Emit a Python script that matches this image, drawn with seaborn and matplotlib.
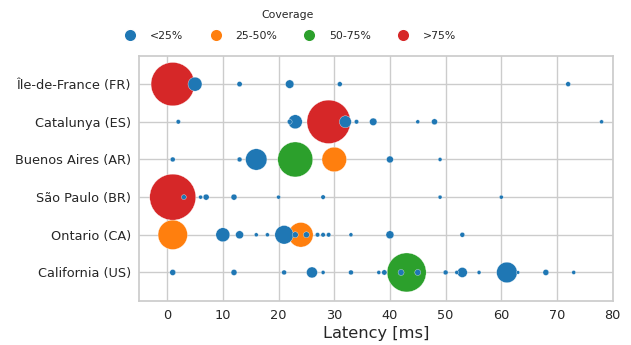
import pandas as pd
import matplotlib.pyplot as plt
import seaborn as sns
from matplotlib.lines import Line2D

# regions, top to bottom
regions = ['Île-de-France (FR)', 'Catalunya (ES)', 'Buenos Aires (AR)',
           'São Paulo (BR)', 'Ontario (CA)', 'California (US)']
coverage_order = ['<25%', '25-50%', '50-75%', '>75%']

# latency [ms], request count (marker size) and coverage per region
fr_lat = [1, 5, 13, 22, 31, 72]
fr_req = [471, 49, 7, 18, 6, 6]
fr_cov = ['>75%', '<25%', '<25%', '<25%', '<25%', '<25%']

es_lat = [2, 22, 23, 29, 32, 34, 37, 45, 48, 78]
es_req = [5, 6, 49, 471, 36, 5, 14, 4, 9, 4]
es_cov = ['<25%', '<25%', '<25%', '>75%', '<25%', '<25%', '<25%', '<25%', '<25%', '<25%']

ar_lat = [1, 13, 16, 23, 30, 40, 49]
ar_req = [6, 6, 114, 306, 151, 12, 4]
ar_cov = ['<25%', '<25%', '<25%', '50-75%', '25-50%', '<25%', '<25%']

br_lat = [1, 3, 6, 7, 12, 20, 28, 49, 60]
br_req = [529, 6, 4, 9, 9, 4, 5, 4, 4]
br_cov = ['>75%', '<25%', '<25%', '<25%', '<25%', '<25%', '<25%', '<25%', '<25%']

ca_lat = [1, 10, 13, 16, 18, 21, 23, 24, 25, 27, 28, 29, 33, 40, 53]
ca_req = [216, 49, 16, 4, 4, 86, 9, 151, 9, 5, 5, 5, 4, 16, 6]
ca_cov = ['25-50%', '<25%', '<25%', '<25%', '<25%', '<25%', '<25%', '25-50%',
          '<25%', '<25%', '<25%', '<25%', '<25%', '<25%', '<25%']

us_lat = [1, 12, 21, 26, 28, 33, 38, 39, 42, 43, 45, 50, 52, 53, 56, 61, 63, 68, 73]
us_req = [9, 9, 6, 30, 4, 6, 4, 7, 9, 380, 9, 6, 4, 25, 4, 106, 3, 9, 4]
us_cov = ['<25%'] * 9 + ['50-75%'] + ['<25%'] * 9

frames = []
for i, (lat, req, cov) in enumerate([(fr_lat, fr_req, fr_cov), (es_lat, es_req, es_cov),
                                      (ar_lat, ar_req, ar_cov), (br_lat, br_req, br_cov),
                                      (ca_lat, ca_req, ca_cov), (us_lat, us_req, us_cov)]):
    frames.append(pd.DataFrame({'row': i, 'latency': lat, 'requests': req, 'coverage': cov}))
df = pd.concat(frames, ignore_index=True)
# big bubbles first so the small ones stay visible on top
df = df.sort_values('requests', ascending=False, kind='stable')

sns.set_theme(style='whitegrid')
fig, ax = plt.subplots(figsize=(6.31, 3.45), dpi=100)
fig.subplots_adjust(left=0.2208, right=0.971, top=0.838, bottom=0.1284)

sns.scatterplot(data=df, x='latency', y='row', hue='coverage', hue_order=coverage_order,
                palette='tab10', size='requests', sizes=(0, 1097), size_norm=(0, 529),
                edgecolor='white', legend=False, ax=ax)

ax.set_yticks(range(len(regions)))
ax.set_yticklabels(regions)
ax.set_ylim(len(regions) - 0.25, -0.75)
ax.set_xlim(-5, 80)
ax.set_xlabel('Latency [ms]', fontsize=11.7, labelpad=3)
ax.set_ylabel('')
ax.tick_params(labelsize=9.3, length=0, pad=6)

colors = sns.color_palette('tab10', 4)
handles = [Line2D([], [], marker='o', linestyle='', markersize=9,
                  markerfacecolor=c, markeredgecolor='white') for c in colors]
fig.legend(handles, coverage_order, title='Coverage', loc='upper center',
           bbox_to_anchor=(0.456, 1.0), ncol=4, frameon=False,
           fontsize=7.8, title_fontsize=7.8, labelspacing=1.05)

plt.savefig('out.png')
